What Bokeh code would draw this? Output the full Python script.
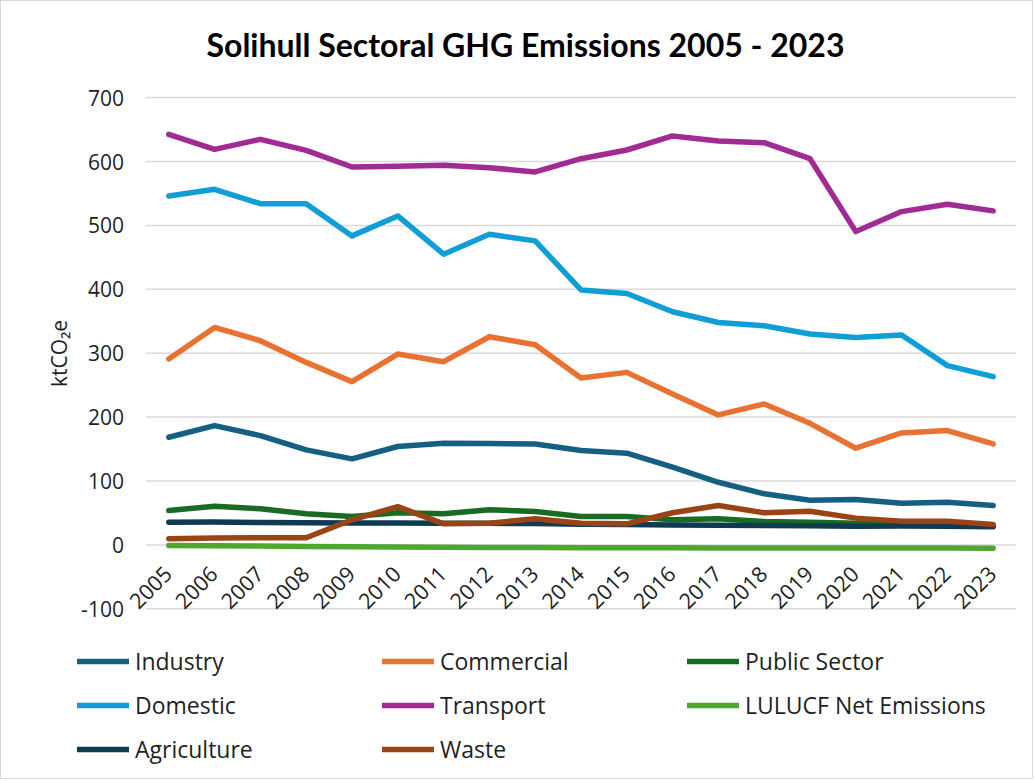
import math

from bokeh.core.properties import value
from bokeh.embed import file_html
from bokeh.models import ColumnDataSource, Label, Legend, LegendItem, Range1d
from bokeh.plotting import figure
from bokeh.resources import INLINE

# Annual sector emissions for Solihull, ktCO2e
years = list(range(2005, 2024))
year_labels = [str(y) for y in years]

industry = [168.5, 186.7, 171.0, 148.7, 134.6, 154.0, 159.0, 158.5, 158.0, 147.7,
            143.5, 121.6, 98.0, 80.0, 70.0, 71.0, 65.3, 66.9, 61.7]
commercial = [291.0, 340.3, 319.5, 285.6, 255.5, 298.7, 286.7, 325.8, 313.3, 261.3,
              270.0, 236.0, 203.4, 220.6, 190.3, 151.3, 175.3, 179.0, 158.0]
public_sector = [54.0, 60.6, 56.5, 48.7, 44.5, 50.3, 48.7, 55.0, 52.3, 44.5,
                 44.5, 39.3, 41.0, 36.7, 35.6, 34.0, 33.0, 33.0, 30.5]
domestic = [546.0, 556.5, 534.0, 534.0, 483.6, 514.8, 455.0, 486.0, 475.8, 399.0,
            393.4, 364.8, 348.0, 343.0, 330.0, 324.7, 328.4, 280.5, 263.3]
transport = [642.5, 619.0, 634.7, 617.5, 591.4, 592.5, 594.0, 590.3, 583.6, 604.4,
             618.0, 640.0, 632.0, 629.4, 604.4, 490.3, 521.6, 533.0, 522.7]
lulucf = [-0.8, -1.4, -1.9, -2.4, -2.9, -3.4, -3.7, -3.9, -4.1, -4.3,
          -4.5, -4.6, -4.7, -4.8, -4.9, -4.9, -5.0, -5.0, -5.1]
agriculture = [35.6, 35.9, 34.9, 34.5, 34.2, 34.3, 33.9, 33.8, 33.5, 32.4,
               31.8, 31.2, 30.9, 30.2, 29.8, 29.3, 29.5, 29.1, 28.4]
waste = [9.7, 10.7, 11.2, 11.2, 39.3, 60.0, 33.0, 34.0, 41.0, 34.0,
         33.0, 50.3, 61.7, 50.3, 52.8, 41.9, 37.2, 37.2, 32.0]

series_names = ["Industry", "Commercial", "Public Sector", "Domestic", "Transport",
                "LULUCF Net Emissions", "Agriculture", "Waste"]
series_values = [industry, commercial, public_sector, domestic, transport,
                 lulucf, agriculture, waste]
series_colors = ["#156082", "#E97132", "#196B24", "#0F9ED5", "#A02B93",
                 "#4EA72E", "#0E3A52", "#9A4416"]

y_ticks = [-100, 0, 100, 200, 300, 400, 500, 600, 700]
y_tick_labels = [str(t) for t in y_ticks]

FONT = "Open Sans"
TEXT_COLOR = "#1f1f1f"

# Canvas size and where the plotting area sits on it (pixels from top-left).
# The frame spans the whole canvas so the legend and slanted year labels
# can sit outside the gridded area without being clipped.
W, H = 1033, 779
AREA_LEFT, AREA_RIGHT, AREA_TOP, AREA_BOTTOM = 144.4, 1014.6, 96.1, 607.3

x0, x1 = years[0] - 0.5, years[-1] + 0.5
y0, y1 = y_ticks[0], y_ticks[-1]
px_x = (AREA_RIGHT - AREA_LEFT) / (x1 - x0)
px_y = (AREA_BOTTOM - AREA_TOP) / (y1 - y0)
x_range = Range1d(x0 - AREA_LEFT / px_x, x1 + (W - AREA_RIGHT) / px_x)
y_range = Range1d(y0 - (H - AREA_BOTTOM) / px_y, y1 + AREA_TOP / px_y)

p = figure(
    width=W, height=H, title=None,
    output_backend="svg", toolbar_location=None,
    x_range=x_range, y_range=y_range,
    x_axis_type=None, y_axis_type=None,
    min_border_left=0, min_border_right=0, min_border_top=0, min_border_bottom=0,
    styles={"border": "1px solid #d9d9d9"},
)
p.outline_line_color = None
p.background_fill_color = "white"
p.border_fill_color = "white"

# Horizontal gridlines across the plotting area
grid_src = ColumnDataSource(data=dict(y=y_ticks, label=y_tick_labels))
p.segment(x0=x0, x1=x1, y0="y", y1="y", source=grid_src,
          line_color="#d9d9d9", line_width=1.5)

# Value axis labels
p.text(x=x0, y="y", text="label", source=grid_src, x_offset=-22,
       text_align="right", text_baseline="middle",
       text_font=value(FONT), text_font_size="21px", text_color=TEXT_COLOR)

# Year labels hang just under the zero line, slanted
label_src = ColumnDataSource(data=dict(x=years, text=year_labels))
p.text(x="x", y=0, text="text", source=label_src, angle=math.pi / 4,
       text_align="right", text_baseline="middle", x_offset=-1, y_offset=25,
       text_font=value(FONT), text_font_size="21.5px", text_color=TEXT_COLOR)

items = []
for name, vals, color in zip(series_names, series_values, series_colors):
    src = ColumnDataSource(data=dict(x=years, y=vals))
    r = p.line(x="x", y="y", source=src, line_color=color, line_width=5.5,
               line_join="round", line_cap="round")
    items.append(LegendItem(label=name, renderers=[r]))

title = Label(x=524, y=H - 43, x_units="screen", y_units="screen",
              text="Solihull Sectoral GHG Emissions 2005 - 2023",
              text_font="Lato", text_font_style="bold", text_font_size="32px",
              text_color="#000000", text_align="center", text_baseline="middle")
p.add_layout(title)

y_title = Label(x=57, y=H - 352, x_units="screen", y_units="screen",
                text="ktCO₂e", angle=math.pi / 2,
                text_font=FONT, text_font_size="21px", text_color=TEXT_COLOR,
                text_align="center", text_baseline="middle")
p.add_layout(y_title)

legend = Legend(
    items=items, location=(76, 15), orientation="horizontal", ncols=3,
    label_text_font=FONT, label_text_font_size="23px", label_text_color=TEXT_COLOR,
    glyph_width=52, glyph_height=26, label_height=26, label_standoff=6,
    label_width=235, spacing=12, padding=0, margin=0,
    border_line_color=None, background_fill_alpha=0,
)
p.add_layout(legend)

open("out.html", "w").write(file_html(p, INLINE))
